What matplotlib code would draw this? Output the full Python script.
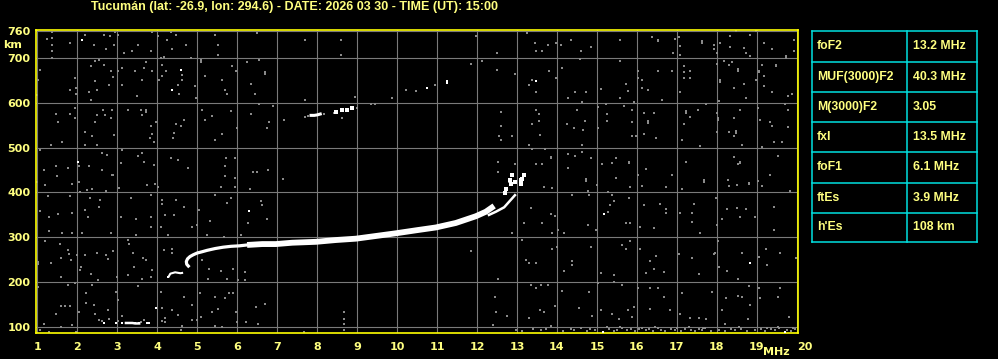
import matplotlib
matplotlib.use("Agg")
import matplotlib.pyplot as plt
from matplotlib.lines import Line2D

plt.rcParams['font.family'] = ['Liberation Sans', 'DejaVu Sans']

# ---------------- data ----------------
title = "Tucumán (lat: -26.9, lon: 294.6) - DATE: 2026 03 30 - TIME (UT): 15:00"
x_ticks = list(range(1, 21))
y_ticks = [100, 200, 300, 400, 500, 600, 700, 760]

param_names = ["foF2", "MUF(3000)F2", "M(3000)F2", "fxI", "foF1", "ftEs", "h'Es"]
param_values = ["13.2 MHz", "40.3 MHz", "3.05", "13.5 MHz", "6.1 MHz", "3.9 MHz", "108 km"]

# F-layer trace, lower part (thin)
f_low_f = [4.28, 4.33, 4.45, 4.58, 4.65]
f_low_h = [211, 219, 222, 220, 221]
# F-layer hook and thin rising part
f_hook_f = [4.78, 4.74, 4.73, 4.76, 4.82, 4.90, 5.00, 5.13, 5.25, 5.45, 5.65, 5.85, 6.05, 6.25]
f_hook_h = [236, 240, 246, 252, 257, 261, 265, 268, 271, 275, 278, 280, 281, 283]
# F-layer main (thick) trace
f_main_f = [6.25, 6.63, 6.97, 7.38, 7.97, 8.47, 8.97, 9.47,
            9.97, 10.50, 10.97, 11.47, 11.97, 12.22, 12.43]
f_main_h = [283, 285, 285, 288, 290, 294, 297, 303,
            309, 316, 322, 332, 347, 357, 370]
# upper cusp branch
f_cusp_f = [12.30, 12.47, 12.68, 12.84, 12.95]
f_cusp_h = [350, 357, 367, 383, 394]
# scattered bright points near critical frequency
f_top_f = [12.70, 12.73, 12.84, 12.95, 13.09, 13.09, 12.88, 13.13, 12.82, 13.18]
f_top_h = [398, 407, 420, 424, 420, 427, 440, 431, 428, 440]

# second-hop trace (~ 580 km)
f2hop_f = [7.85, 7.93, 8.00, 8.08, 8.47, 8.63, 8.74, 8.88]
f2hop_h = [572, 572, 573, 575, 580, 584, 584, 588]
f2hop_grey_f = [7.69, 7.77, 8.18, 8.42, 9.00, 9.34, 9.44, 10.47, 10.94]
f2hop_grey_h = [568, 570, 575, 578, 588, 597, 597, 627, 640]

# sporadic E trace (~108 km)
es_f = [2.68, 2.97, 3.12, 3.22, 3.30, 3.38, 3.45, 3.55, 3.75, 3.80]
es_h = [108, 108, 108, 109, 109, 109, 108, 108, 109, 108]

# isolated bright points
bright_f = [2.13, 2.03, 4.59, 4.36, 10.76, 11.24, 11.24, 13.48, 6.30, 3.98,
            15.18, 18.84, 15.15, 19.70, 4.28]
bright_h = [739, 469, 673, 629, 633, 648, 645, 648, 358, 143,
            353, 242, 90, 90, 212]

# grey background noise points
noise_f = [
    1.38, 1.38, 1.38, 1.38, 1.38, 1.24, 1.83, 1.08, 1.03, 1.94, 1.83, 1.98, 1.98, 1.94,
    1.48, 1.83, 1.53, 1.94, 1.34, 1.63, 1.08, 1.48, 1.78, 1.18, 1.49, 1.00,
    2.19, 2.43, 2.68, 2.83, 2.91, 2.73, 2.55, 2.44, 2.68, 2.34, 2.84, 2.90, 2.44, 2.80,
    2.49, 2.29, 2.34, 2.64, 2.88, 2.49, 2.44, 2.84, 2.69, 2.19, 2.38, 2.49, 2.91, 2.19,
    2.63, 2.74, 2.05, 2.30, 2.63, 2.88,
    2.94, 3.03, 3.18, 3.38, 3.53, 3.84, 3.88, 3.72, 3.68, 3.44, 3.13, 3.03, 3.88, 3.63,
    3.13, 3.49, 3.28, 3.59, 3.72, 3.72, 3.63, 3.84, 3.88, 3.83, 3.93, 3.13, 3.53, 3.63,
    3.68, 3.09, 3.93, 2.90,
    4.03, 4.24, 4.34, 4.48, 4.38, 4.72, 4.18, 4.09, 4.84, 4.13, 4.23, 4.63, 4.63, 4.12,
    4.05, 4.51, 4.55, 4.95, 4.98, 4.48, 4.68, 4.59, 4.43, 4.40, 3.97, 4.34, 4.53, 4.78,
    5.09, 5.09, 5.44, 5.53, 5.53, 5.20, 5.63, 5.88, 5.97, 5.69, 5.74, 5.13, 5.38, 5.20,
    5.84, 5.63, 5.44, 6.00, 5.73, 5.94, 5.69, 5.69, 5.95,
    6.50, 6.25, 6.55, 6.70, 6.70, 6.36, 6.45, 6.55, 6.90, 6.35, 6.80, 6.76, 6.40, 6.50,
    6.77, 7.15, 7.69, 7.69, 7.18, 8.59, 8.59, 8.94, 8.63, 9.88, 10.23,
    11.97, 11.84, 12.13, 12.49, 12.49, 12.94, 13.26, 13.44, 13.48, 13.63, 13.78, 13.98,
    14.09, 14.34, 14.59, 14.84, 15.58, 14.58, 13.80, 14.13, 13.38, 13.30, 13.48, 13.97,
    14.45, 14.73, 14.28, 14.63, 15.09, 15.58, 15.74, 15.78, 15.58, 15.94, 15.69, 15.03,
    15.22, 15.89, 16.38, 16.53, 16.53, 16.95, 17.05, 16.91, 17.09, 17.09, 16.03, 16.14,
    16.03, 16.53, 16.88, 16.13, 16.28, 16.63, 17.19, 17.19, 17.34, 17.34, 17.19, 17.09,
    17.63, 17.63, 17.94, 17.94, 18.00, 18.09, 18.34, 18.48, 18.34, 18.69, 18.74, 18.84,
    18.98, 18.84, 19.19, 19.38, 19.73, 19.73, 19.94, 19.94, 18.00, 18.19, 18.30, 18.38,
    18.53, 18.53, 18.09, 18.09, 18.44, 18.69, 18.74, 18.05, 19.05, 19.05, 19.13, 19.19,
    19.48, 19.48, 19.19, 19.38, 19.78, 19.88, 18.99,
    12.59, 12.59, 12.55, 12.88, 12.59, 13.48, 13.54, 13.54, 13.38, 13.58, 13.30, 13.38,
    13.69, 14.49, 14.24, 14.43, 14.69, 14.65, 14.63, 15.24, 15.24, 15.03, 15.88, 15.89,
    15.98, 16.19, 16.28, 16.28, 16.44, 16.18, 16.48, 17.13, 17.19, 17.23, 17.23, 17.34,
    17.53, 17.59, 17.74, 18.00, 18.03, 18.03, 18.00, 18.30, 18.44, 18.48, 18.48, 18.44,
    18.59, 18.63, 19.03, 19.09, 19.34, 19.38, 19.78, 19.78, 19.44, 19.63, 19.70, 19.13,
    12.53, 12.53, 12.94, 13.48, 13.63, 13.84, 13.84, 14.28, 14.45, 14.63, 14.84, 14.28,
    14.73, 14.73, 15.13, 15.38, 15.49, 15.80, 15.80, 15.47, 16.03, 16.23, 16.88, 17.23,
    17.68, 18.28, 18.44, 18.53, 18.59, 18.59, 18.80, 19.03, 19.33, 19.53,
    1.00, 1.19, 1.88, 2.07, 2.24, 2.05, 2.38, 2.73, 3.05, 3.74, 3.94, 4.01, 5.59, 5.95,
    6.33, 1.28, 1.83, 2.33, 2.58, 3.34, 3.84, 4.13, 4.13, 4.48, 5.44, 5.74, 5.84, 6.59,
    6.63, 1.08, 1.30, 1.53, 1.88, 2.19, 2.28, 2.55, 3.09, 3.47, 3.84, 4.20, 4.43, 4.68,
    5.05, 5.32, 4.88, 4.99, 6.28, 6.76, 1.30, 1.63, 1.88, 2.13, 2.84, 3.47, 3.84, 4.09,
    4.26, 5.25, 5.68, 6.10, 1.19, 1.58, 1.76, 1.80, 2.00, 1.84, 1.34, 1.59, 2.09, 2.20,
    2.49, 2.72, 2.76, 2.90, 3.26, 3.30, 3.40, 3.65, 3.72, 3.42, 3.88, 4.18, 4.38, 4.38,
    1.03, 1.03, 1.59, 2.08, 2.34, 2.51, 2.99, 3.28, 3.62, 3.84, 5.12, 5.30, 5.28, 5.59,
    5.74, 5.90, 6.19, 6.02, 6.19, 1.03, 1.76, 1.95, 2.22, 2.38, 2.97, 3.53, 3.03, 4.09,
    4.68, 5.08, 5.45, 5.69, 5.80, 5.90, 1.59, 1.83, 1.70, 2.22, 2.43, 1.48, 2.05, 2.45,
    2.78, 4.13, 4.38, 4.88, 5.38, 5.51, 5.97, 6.48, 6.70, 1.18, 1.59, 1.88, 2.55, 2.80,
    3.12, 3.66, 4.20, 4.51, 4.63, 4.88, 5.00, 5.09, 5.44, 5.63, 6.00, 6.23, 6.53, 1.08,
    1.30, 1.97, 4.59, 8.68, 8.68, 8.68, 8.68, 7.68, 2.62, 3.03, 3.60, 4.13, 4.20,
    12.80, 13.68, 13.88, 14.38, 14.80, 14.78, 15.01, 15.28, 15.38, 15.44, 15.80, 15.34,
    15.28, 15.84, 16.13, 16.72, 17.13, 17.68, 16.19, 16.58, 16.73, 16.72, 17.09, 17.44,
    17.38, 17.38, 17.97, 18.30, 18.51, 18.80, 19.13, 19.84, 18.26, 18.51, 18.72, 18.59,
    18.95, 18.13, 19.44, 19.43, 13.34, 13.84, 13.95, 13.18, 13.63, 13.88, 14.03, 14.18,
    14.78, 14.97, 15.74, 15.84, 16.09, 16.43, 17.58, 18.00, 12.88,
    11.84, 13.13, 13.22, 13.30, 13.48, 13.88, 14.00, 14.38, 14.38, 14.18, 14.84, 15.09,
    15.44, 15.43, 15.63, 15.73, 15.84, 16.09, 16.34, 16.48, 16.44, 16.22, 16.68, 17.05,
    17.38, 17.55, 17.95, 18.05, 18.26, 18.63, 19.25, 19.23, 19.58, 18.53, 19.05, 19.98,
    18.03, 17.92,
    12.53, 12.44, 12.48, 12.76, 13.34, 13.47, 13.59, 13.78, 13.29, 13.58, 13.67, 13.95,
    14.13, 14.55, 14.80, 14.88, 15.03, 15.09, 15.38, 15.63, 15.56, 15.78, 15.93, 15.88,
    16.03, 16.34, 16.34, 16.53, 16.68, 16.84, 17.07, 17.13, 17.34, 17.55, 17.74, 17.88,
    18.13, 18.23, 18.53, 18.63, 18.80, 18.84, 19.05, 19.09, 19.53, 19.58, 18.78, 18.20,
    19.80,
    12.97, 13.12, 13.40, 13.60, 13.72, 14.15, 14.35, 14.42, 14.60, 14.75, 14.82, 14.95,
    15.30, 15.42, 15.50, 15.62, 15.75, 15.85, 15.95, 16.05, 16.22, 16.30, 16.40, 16.52,
    16.60, 16.70, 16.85, 16.95, 17.10, 17.20, 17.35, 17.45, 17.55, 17.62, 17.70, 17.85,
    18.05, 18.20, 18.35, 18.45, 18.60, 18.75, 18.95, 19.10, 19.20, 19.35, 19.45, 19.55,
    19.75, 19.85, 19.95, 15.25, 15.58, 16.12, 16.45, 17.00, 17.30, 17.66, 18.55, 19.25,
    19.52, 19.90, 12.40, 13.85,
]
noise_h = [
    758, 745, 730, 715, 701, 743, 734, 674, 651, 655, 629, 633, 620, 588,
    575, 575, 557, 567, 507, 512, 495, 459, 454, 450, 437, 618,
    752, 730, 751, 749, 730, 721, 696, 693, 684, 681, 670, 657, 648, 639,
    629, 624, 607, 585, 585, 572, 557, 566, 572, 534, 525, 507, 528, 507,
    487, 484, 460, 459, 450, 439,
    757, 752, 711, 715, 730, 716, 758, 691, 678, 670, 678, 670, 670, 651,
    639, 616, 585, 585, 585, 580, 572, 548, 530, 522, 513, 495, 481, 489,
    469, 466, 461, 440,
    749, 739, 758, 752, 720, 730, 703, 700, 700, 685, 670, 662, 651, 659,
    651, 640, 619, 637, 610, 552, 562, 549, 532, 521, 558, 476, 472, 454,
    695, 690, 752, 730, 707, 660, 651, 681, 670, 629, 620, 585, 570, 562,
    581, 530, 517, 543, 476, 476, 459, 437, 433,
    756, 691, 696, 668, 664, 643, 620, 597, 592, 575, 557, 543, 445, 445,
    450, 431, 739, 607, 562, 739, 707, 614, 566, 610, 629,
    748, 687, 693, 711, 674, 664, 756, 734, 716, 716, 730, 734,
    730, 739, 716, 725, 739, 698, 672, 678, 651, 639, 624, 655,
    624, 624, 610, 601, 631, 693, 642, 627, 610, 601, 594, 590,
    597, 584, 746, 741, 737, 743, 746, 711, 726, 707, 672, 651,
    655, 670, 672, 633, 629, 607, 683, 668, 670, 655, 655, 625,
    737, 733, 730, 719, 711, 734, 748, 761, 725, 722, 711, 752,
    761, 704, 734, 719, 705, 701, 741, 716, 687, 693, 685, 691,
    676, 672, 651, 647, 633, 642, 610, 603, 672, 668, 685, 659,
    685, 681, 638, 625, 616, 620, 651,
    579, 549, 526, 526, 517, 584, 575, 560, 552, 529, 507, 498,
    498, 584, 552, 543, 560, 539, 507, 575, 560, 543, 558, 526,
    526, 577, 560, 556, 577, 530, 521, 517, 552, 582, 578, 569,
    584, 504, 597, 577, 566, 562, 536, 534, 566, 537, 533, 525,
    584, 507, 588, 562, 557, 549, 584, 545, 512, 512, 597, 502,
    469, 445, 463, 463, 463, 480, 476, 485, 481, 490, 476, 454,
    430, 426, 463, 466, 476, 469, 465, 433, 440, 452, 440, 467,
    428, 428, 480, 463, 469, 466, 422, 425, 439, 482,
    424, 416, 420, 401, 405, 424, 407, 403, 409, 416, 420, 413, 413, 413,
    407, 392, 392, 388, 384, 388, 394, 384, 375, 384, 394, 377, 388, 381,
    372, 359, 346, 351, 355, 362, 346, 367, 346, 340, 346, 349, 349, 368,
    362, 337, 323, 328, 332, 341, 314, 310, 310, 310, 309, 305, 323, 323,
    305, 305, 300, 305, 292, 286, 271, 262, 260, 249, 243, 253, 234, 260,
    265, 260, 251, 270, 294, 286, 265, 253, 249, 233, 227, 271, 273, 265,
    245, 241, 212, 227, 218, 204, 212, 216, 208, 212, 249, 230, 208, 225,
    208, 229, 223, 204, 204, 190, 193, 199, 175, 193, 178, 191, 160, 178,
    167, 176, 167, 164, 176, 176, 146, 146, 146, 154, 149, 130, 134, 130,
    138, 143, 139, 149, 134, 141, 134, 145, 151, 107, 101, 104, 115, 119,
    124, 116, 121, 126, 102, 115, 115, 123, 102, 101, 112, 112, 106, 93,
    89, 89, 93, 134, 118, 106, 93, 89, 113, 114, 112, 113, 112,
    424, 413, 411, 394, 394, 404, 416, 401, 394, 381, 387, 372,
    357, 413, 414, 413, 407, 424, 372, 375, 364, 355, 355, 374,
    355, 335, 387, 414, 416, 420, 414, 404, 364, 366, 364, 346,
    346, 342, 368, 317, 366, 353, 347, 332, 331, 309, 317, 309,
    327, 317, 332, 331, 323, 320, 309, 327, 310,
    270, 294, 249, 243, 243, 275, 279, 248, 238, 225, 279, 221,
    216, 201, 283, 273, 292, 275, 248, 259, 230, 221, 223, 262,
    255, 218, 265, 234, 225, 265, 238, 275, 265, 206, 256, 255,
    292, 262,
    207, 167, 134, 124, 193, 186, 193, 193, 121, 139, 134, 146,
    181, 143, 178, 124, 199, 138, 129, 193, 117, 138, 145, 123,
    186, 186, 141, 186, 167, 139, 130, 176, 121, 121, 117, 178,
    139, 164, 169, 167, 191, 149, 186, 164, 167, 188, 119, 106,
    123,
    94, 92, 95, 93, 96, 92, 95, 93, 97, 92, 95, 93,
    96, 92, 94, 97, 93, 95, 92, 96, 93, 95, 92, 97,
    94, 92, 95, 93, 92, 96, 94, 92, 95, 93, 97, 92,
    94, 92, 96, 93, 95, 92, 94, 96, 92, 95, 93, 97,
    94, 92, 95, 99, 99, 98, 99, 98, 99, 98, 99, 98,
    99, 98, 104, 103,
]

# ---------------- figure ----------------
W, H = 998, 359
fig = plt.figure(figsize=(W / 100, H / 100), dpi=100, facecolor='black')

ax = fig.add_axes([36 / W, (H - 333.3) / H, 762 / W, 303.8 / H], facecolor='black')
ax.set_xlim(0.97, 20.03)
ax.set_ylim(86, 763.5)

tick_font = dict(family='DejaVu Sans', weight='bold', size=8)
ax.set_xticks(x_ticks)
ax.set_xticklabels([str(v) for v in x_ticks], fontdict=tick_font)
ax.set_yticks(y_ticks)
ax.set_yticklabels([str(v) for v in y_ticks], fontdict=tick_font)
ax.tick_params(length=0, colors='#FFFF80', pad=4)
ax.tick_params(axis='x', pad=6)
# the last x label sits a little right of the border, as in the reference
ax.get_xticklabels()[-1].set_horizontalalignment('left')
ax.get_xticklabels()[-1].set_x(19.85)

ax.grid(True, color='#7a7a7a', linewidth=0.8, zorder=1)
ax.set_axisbelow(True)
for s in ax.spines.values():
    s.set_color('#FFFF00')
    s.set_linewidth(1.2)

# noise
ax.scatter(noise_f, noise_h, s=3.2, marker='s', color='#8a8a8a', linewidths=0, zorder=2)
ax.scatter(f2hop_grey_f, f2hop_grey_h, s=3.2, marker='s', color='#8a8a8a', linewidths=0, zorder=2)
ax.scatter(bright_f, bright_h, s=3.8, marker='s', color='white', linewidths=0, zorder=3)

# traces
ax.plot(f_low_f, f_low_h, color='white', linewidth=1.5, solid_capstyle='butt', zorder=4)
ax.plot(f_hook_f, f_hook_h, color='white', linewidth=2.3, zorder=4)
ax.plot(f_main_f, f_main_h, color='white', linewidth=4.2, solid_capstyle='butt', zorder=4)
ax.plot(f_cusp_f, f_cusp_h, color='white', linewidth=1.8, zorder=4)
ax.scatter(f_top_f, f_top_h, s=5, marker='s', color='white', linewidths=0, zorder=4)
ax.plot(f2hop_f[:4], f2hop_h[:4], color='white', linewidth=2.2, zorder=4)
ax.scatter(f2hop_f[4:], f2hop_h[4:], s=5, marker='s', color='white', linewidths=0, zorder=4)
ax.plot(es_f[3:8], es_h[3:8], color='white', linewidth=1.8, zorder=4)
ax.scatter(es_f, es_h, s=4, marker='s', color='white', linewidths=0, zorder=4)

# overlay in pixel coordinates for free text and table
ov = fig.add_axes([0, 0, 1, 1], facecolor='none')
ov.set_xlim(0, W)
ov.set_ylim(H, 0)
ov.axis('off')

ov.text(295, 7, title, color='#FFFF80', fontsize=9, fontweight='bold',
        ha='center', va='center')
ov.text(13, 45, "km", color='#FFFF80', fontsize=8, fontweight='bold',
        family='DejaVu Sans', ha='center', va='center')
ov.text(790, 352, "MHz", color='#FFFF80', fontsize=8, fontweight='bold',
        family='DejaVu Sans', ha='right', va='center')

# parameter table
tx0, tx1, txm = 812, 977, 907
row_edges = [30.7, 61.7, 91.7, 121.7, 151.7, 182.7, 212.7, 242.3]
cyan = '#00E0E0'
for y in row_edges:
    ov.add_line(Line2D([tx0, tx1], [y, y], color=cyan, linewidth=1.1))
for x in (tx0, txm, tx1):
    ov.add_line(Line2D([x, x], [row_edges[0], row_edges[-1]], color=cyan, linewidth=1.1))
for i, (n, v) in enumerate(zip(param_names, param_values)):
    yc = (row_edges[i] + row_edges[i + 1]) / 2
    ov.text(817, yc, n, color='#FFFF80', fontsize=8.8, fontweight='bold', ha='left', va='center')
    ov.text(913, yc, v, color='#FFFF80', fontsize=8.8, fontweight='bold', ha='left', va='center')

fig.savefig('out.png', dpi=100, facecolor='black')
